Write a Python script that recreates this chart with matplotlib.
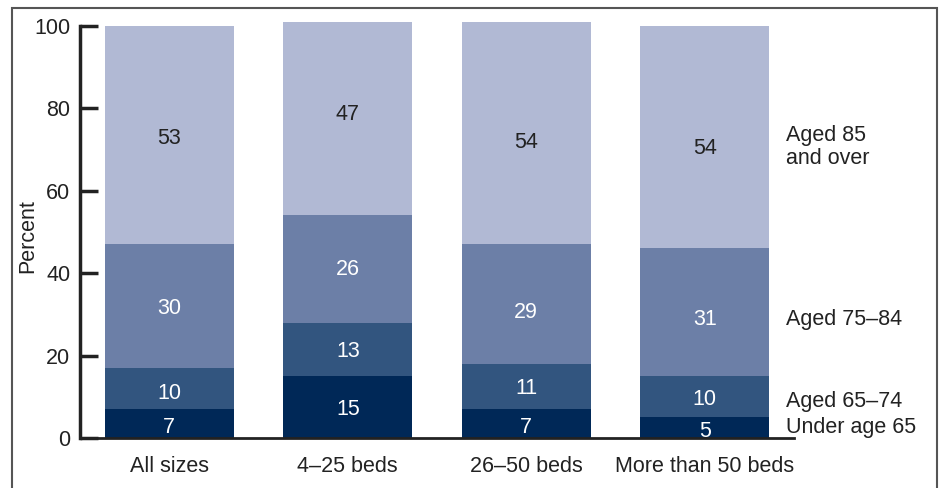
import matplotlib
matplotlib.use("Agg")
import matplotlib.pyplot as plt
from matplotlib.patches import Rectangle
import numpy as np

plt.rcParams['font.family'] = ['Liberation Sans', 'DejaVu Sans']

categories = ["All sizes", "4\u201325 beds", "26\u201350 beds", "More than 50 beds"]
under_65 = [7, 15, 7, 5]
aged_65_74 = [10, 13, 11, 10]
aged_75_84 = [30, 26, 29, 31]
aged_85_over = [53, 47, 54, 54]
series = [under_65, aged_65_74, aged_75_84, aged_85_over]
series_names = ["Under age 65", "Aged 65\u201374", "Aged 75\u201384", "Aged 85\nand over"]

# styling / placement (not data)
colors = ["#002857", "#32557F", "#6C7FA7", "#B1B9D4"]
text_colors = ["white", "white", "white", "#222222"]
label_shift = [[-0.3, 0.0, -0.3, -0.4],
               [-0.5, 0.0, 0.0, 0.0],
               [0.0, 0.5, -1.5, -1.2],
               [-0.3, 1.5, -1.8, -2.2]]

fig = plt.figure(figsize=(9.41, 4.88), dpi=100)
ax = fig.add_axes([80/941, 1-438/488, (794-80)/941, (438-25.7)/488])

x = np.arange(len(categories))
bottom = np.zeros(len(categories))
fs = 15.5
for vals, col, tc, sh in zip(series, colors, text_colors, label_shift):
    vals = np.array(vals, dtype=float)
    ax.bar(x, vals, width=0.72, bottom=bottom, color=col, clip_on=False, zorder=2)
    for xi, b, v, d in zip(x, bottom, vals, sh):
        ax.text(xi, b + v/2 + d, f"{int(v)}", ha="center", va="center_baseline",
                color=tc, fontsize=fs, zorder=3)
    bottom += vals

ax.set_xlim(-0.5, 3.5)
ax.set_ylim(0, 100)
ax.set_yticks([0, 20, 40, 60, 80, 100])
ax.set_xticks(x)
ax.set_xticklabels(categories, fontsize=fs, color="#222222")
ax.tick_params(axis="y", direction="in", length=13, width=2.5, labelsize=fs,
               labelcolor="#222222", pad=7, color="#222222")
ax.tick_params(axis="x", length=0, pad=13)
for s in ["top", "right"]:
    ax.spines[s].set_visible(False)
ax.spines["left"].set_linewidth(2.5)
ax.spines["left"].set_color("#222222")
ax.spines["bottom"].set_linewidth(2)
ax.spines["bottom"].set_color("#222222")

fig.text(28/941, 1 - 236/488, "Percent", rotation=90, ha="center", va="center",
         fontsize=fs, color="#222222")

# right-side series labels
label_y = [428, 401, 319, 147]
for name, yp in zip(series_names, label_y):
    fig.text(786/941, 1 - yp/488, name, ha="left", va="center", fontsize=fs,
             color="#222222", linespacing=1.15)

# figure border
fig.patches.append(Rectangle((12/941, -0.01), (937-12)/941, (488-8)/488 + 0.01,
                             transform=fig.transFigure, fill=False,
                             edgecolor="#555555", linewidth=1.5))

fig.savefig("out.png", dpi=100)
